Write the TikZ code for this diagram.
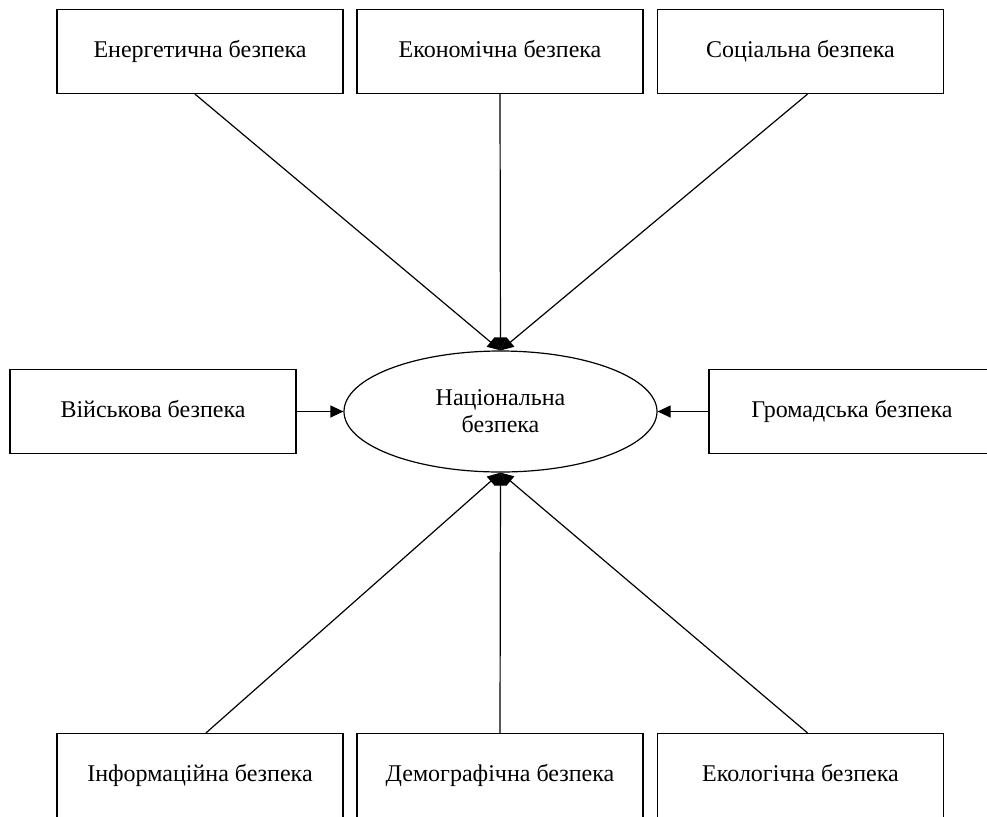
\documentclass[tikz,border=0pt]{standalone}
\usepackage{fontspec}
\setmainfont{Liberation Serif}
\usetikzlibrary{arrows.meta,shapes.geometric}
\tikzset{
  part/.style={draw,line width=0.6pt,minimum width=143pt,minimum height=42pt,inner sep=0pt,text height=8.2pt,text depth=2.6pt,font=\fontsize{12}{14}\selectfont},
  whole/.style={draw,ellipse,line width=0.6pt,minimum width=156.5pt,minimum height=60.5pt,inner sep=0pt,align=center,font=\fontsize{12}{14}\selectfont},
  feed/.style={line width=0.6pt,-{Triangle[length=6.5pt,width=6pt]}}
}
\begin{document}
\begin{tikzpicture}[x=0.5pt,y=-0.5pt]
                \useasboundingbox (0,0) rectangle (987,816);
                \clip (0,0) rectangle (987,816);
                \node[whole] (nat) at (500.5,411.5) {Національна\\[-0.5pt]безпека};
                \node[part] (ener) at (200,51.5) {Енергетична безпека};
                \node[part] (econ) at (500,51.5) {Економічна безпека};
                \node[part] (soc) at (800.5,51.5) {Соціальна безпека};
                \node[part] (mil) at (153,411.5) {Військова безпека};
                \node[part] (civ) at (852,411.5) {Громадська безпека};
                \node[part] (info) at (200,775.5) {Інформаційна безпека};
                \node[part] (dem) at (500,775.5) {Демографічна безпека};
                \node[part] (eco) at (800.5,775.5) {Екологічна безпека};
                \draw[feed] ([xshift=-2.5pt]ener.south) -- (nat.north);
                \draw[feed] (econ.south) -- (nat.north);
                \draw[feed] ([xshift=3.5pt]soc.south) -- (nat.north);
                \draw[feed] (mil.east) -- (nat.west);
                \draw[feed] (civ.west) -- (nat.east);
                \draw[feed] ([xshift=3pt]info.north) -- (nat.south);
                \draw[feed] (dem.north) -- (nat.south);
                \draw[feed] ([xshift=3.5pt]eco.north) -- (nat.south);
            \end{tikzpicture}
\end{document}
